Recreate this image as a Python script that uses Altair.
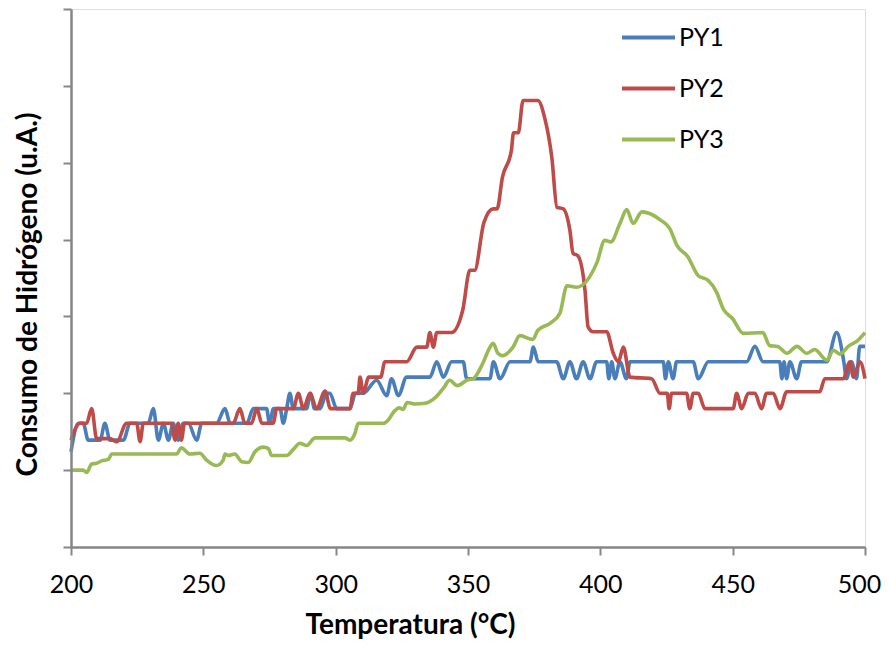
import altair as alt
import pandas as pd

series_names = ["PY1", "PY2", "PY3"]
series_colors = ["#4A7EBB", "#BE4B48", "#98B954"]

py1_t = [200.0, 202.8, 204.6, 206.5, 211.0, 212.8, 214.7, 219.8, 222.3, 229.2, 231.1, 233.0, 234.9,
         236.8, 238.6, 240.5, 242.4, 244.3, 247.5, 249.4, 255.0, 258.2, 260.1, 266.4, 268.9, 273.9,
         275.0, 276.5, 279.0, 280.2, 281.5, 282.7, 284.0, 289.0, 290.5, 292.0, 294.1, 296.6, 297.8,
         300.4, 305.4, 307.5, 310.4, 315.5, 319.3, 321.1, 323.7, 326.8, 335.6, 338.2, 340.7, 343.8,
         348.2, 349.5, 358.3, 359.6, 362.1, 365.9, 373.4, 374.7, 376.5, 383.5, 386.0, 388.5, 391.0,
         393.5, 396.1, 398.6, 402.4, 403.2, 404.3, 405.5, 407.4, 409.9, 411.2, 423.8, 424.6, 425.7,
         427.5, 428.8, 435.1, 437.0, 440.8, 455.3, 458.4, 461.5, 467.8, 468.6, 469.4, 470.4, 471.6,
         474.2, 476.0, 485.5, 489.3, 492.0, 493.0, 494.9, 496.8, 498.0, 500.0]
py1_v = [1.24, 1.61, 1.61, 1.39, 1.39, 1.61, 1.39, 1.39, 1.61, 1.61, 1.80, 1.39, 1.61,
         1.39, 1.61, 1.39, 1.61, 1.61, 1.39, 1.61, 1.61, 1.80, 1.61, 1.61, 1.80, 1.80,
         1.61, 1.80, 1.80, 1.61, 1.80, 2.00, 1.80, 1.80, 2.00, 1.80, 1.80, 2.00, 2.00,
         1.80, 1.80, 2.00, 2.00, 2.17, 1.97, 2.19, 1.97, 2.21, 2.21, 2.41, 2.21, 2.41,
         2.41, 2.19, 2.19, 2.41, 2.19, 2.41, 2.41, 2.60, 2.41, 2.41, 2.19, 2.41, 2.19,
         2.41, 2.19, 2.41, 2.41, 2.19, 2.41, 2.19, 2.41, 2.19, 2.41, 2.41, 2.19, 2.41,
         2.19, 2.41, 2.41, 2.19, 2.41, 2.41, 2.61, 2.41, 2.41, 2.19, 2.41, 2.19, 2.41,
         2.19, 2.41, 2.41, 2.79, 2.41, 2.19, 2.41, 2.19, 2.61, 2.61]

py2_t = [200.0, 203.4, 205.9, 207.8, 209.7, 214.7, 217.3, 221.0, 224.8, 226.1, 227.3, 238.0, 239.3,
         240.5, 241.7, 242.9, 261.3, 263.8, 265.7, 268.2, 270.2, 272.1, 276.4, 277.7, 284.0, 285.9,
         287.8, 290.3, 292.8, 296.0, 298.0, 305.4, 306.6, 308.5, 309.2, 310.4, 312.5, 317.0, 318.6,
         326.8, 330.7, 334.4, 335.6, 336.9, 338.2, 343.8, 348.0, 350.7, 352.5, 356.0, 359.5, 361.0,
         363.0, 366.4, 367.2, 369.0, 370.8, 376.4, 379.0, 381.7, 383.6, 386.0, 388.5, 389.7, 391.5,
         394.2, 395.4, 397.3, 402.4, 404.9, 406.8, 408.7, 411.2, 419.4, 422.5, 425.3, 426.0, 426.9,
         432.6, 433.8, 435.1, 437.0, 439.5, 450.2, 451.5, 453.4, 455.9, 458.4, 460.9, 462.8, 465.3,
         467.9, 470.4, 482.9, 484.8, 491.8, 494.3, 495.6, 498.1, 500.0]
py2_v = [1.39, 1.61, 1.61, 1.80, 1.41, 1.41, 1.37, 1.61, 1.61, 1.37, 1.61, 1.61, 1.39,
         1.61, 1.39, 1.61, 1.61, 1.80, 1.61, 1.61, 1.80, 1.61, 1.61, 1.80, 1.80, 2.00,
         1.80, 2.00, 1.80, 2.03, 1.80, 1.80, 2.00, 2.00, 2.21, 2.00, 2.21, 2.21, 2.41,
         2.41, 2.60, 2.60, 2.79, 2.60, 2.79, 2.79, 3.08, 3.60, 3.60, 4.22, 4.40, 4.40,
         4.81, 5.16, 5.39, 5.39, 5.81, 5.81, 5.58, 5.06, 4.42, 4.40, 4.12, 3.82, 3.79,
         3.34, 2.86, 2.80, 2.80, 2.52, 2.41, 2.60, 2.21, 2.19, 2.00, 2.00, 1.80, 2.00,
         2.00, 1.80, 2.00, 2.00, 1.80, 1.80, 2.00, 1.80, 2.00, 2.00, 1.80, 2.00, 2.00,
         1.80, 2.02, 2.02, 2.19, 2.19, 2.41, 2.21, 2.41, 2.19]

py3_t = [200.0, 204.6, 205.9, 207.8, 209.7, 211.6, 214.1, 215.4, 239.9, 241.7, 244.9, 248.7, 251.2,
         255.0, 257.5, 258.2, 259.4, 261.9, 264.5, 267.0, 269.5, 272.7, 274.6, 275.8, 281.5, 284.0,
         286.5, 289.0, 292.2, 303.5, 305.4, 307.3, 308.5, 318.0, 319.8, 322.0, 324.0, 325.5, 327.0,
         330.0, 333.7, 337.5, 341.0, 343.0, 346.0, 349.6, 352.0, 355.6, 358.3, 359.5, 361.3, 363.0,
         367.0, 369.6, 374.5, 376.4, 381.0, 384.7, 387.4, 391.0, 398.7, 401.7, 404.0, 407.4, 410.0,
         412.4, 415.7, 422.5, 426.3, 429.0, 433.0, 437.0, 440.7, 444.0, 446.4, 450.0, 454.0, 461.4,
         464.0, 467.0, 470.5, 474.3, 478.0, 481.0, 485.6, 488.0, 490.5, 494.0, 497.0, 500.0]
py3_v = [1.00, 1.00, 0.97, 1.08, 1.09, 1.12, 1.14, 1.21, 1.21, 1.29, 1.21, 1.22, 1.13,
         1.06, 1.13, 1.21, 1.19, 1.21, 1.11, 1.10, 1.24, 1.30, 1.28, 1.19, 1.19, 1.27,
         1.35, 1.32, 1.42, 1.42, 1.39, 1.48, 1.61, 1.61, 1.65, 1.76, 1.81, 1.79, 1.88,
         1.86, 1.87, 1.94, 2.08, 2.17, 2.10, 2.17, 2.19, 2.39, 2.60, 2.65, 2.52, 2.49,
         2.60, 2.75, 2.70, 2.82, 2.91, 3.04, 3.40, 3.38, 3.70, 3.99, 3.97, 4.21, 4.39,
         4.21, 4.36, 4.26, 4.14, 3.92, 3.78, 3.53, 3.47, 3.31, 3.10, 2.97, 2.78, 2.79,
         2.62, 2.61, 2.52, 2.61, 2.52, 2.57, 2.43, 2.56, 2.51, 2.62, 2.68, 2.79]

x_ticks = [200, 250, 300, 350, 400, 450, 500]
y_ticks = [0, 1, 2, 3, 4, 5, 6, 7]

frames = []
for name, ts, vs in zip(series_names, [py1_t, py2_t, py3_t], [py1_v, py2_v, py3_v]):
    frames.append(pd.DataFrame({"T": ts, "v": vs, "serie": name}))
df = pd.concat(frames, ignore_index=True)

FONT = "Lato"
AXIS_GRAY = "#868686"

chart = alt.Chart(df).mark_line(strokeWidth=3.6, interpolate="monotone").encode(
    x=alt.X("T:Q",
            scale=alt.Scale(domain=[200, 500], nice=False, zero=False),
            axis=alt.Axis(values=x_ticks, title="Temperatura (°C)", format="d",
                          grid=False, tickSize=8, tickWidth=2, tickColor=AXIS_GRAY,
                          domainColor=AXIS_GRAY, domainWidth=2.5,
                          labelFont=FONT, labelFontSize=25, labelColor="black",
                          labelPadding=17, labelFlush=False,
                          labelOffset={"condition": {"test": "datum.value === 500", "value": -6},
                                       "value": 0},
                          titleFont=FONT, titleFontSize=28, titleFontWeight="bold",
                          titleColor="black", titlePadding=14, titleX=339, zindex=1)),
    y=alt.Y("v:Q",
            scale=alt.Scale(domain=[0, 7], nice=False),
            axis=alt.Axis(values=y_ticks, labels=False, title="Consumo de Hidrógeno (u.A.)",
                          grid=False, tickSize=8, tickWidth=2, tickColor=AXIS_GRAY,
                          domainColor=AXIS_GRAY, domainWidth=2.5,
                          titleFont=FONT, titleFontSize=28, titleFontWeight="bold",
                          titleColor="black", titlePadding=20, titleY=285, zindex=1)),
    color=alt.Color("serie:N",
                    scale=alt.Scale(domain=series_names, range=series_colors),
                    legend=alt.Legend(title=None, orient="none", legendX=549, legendY=0,
                                      symbolType="stroke", symbolSize=2809,
                                      symbolStrokeWidth=4, labelFont=FONT,
                                      labelFontSize=25, labelColor="black",
                                      rowPadding=9, labelOffset=2, padding=0)),
).properties(
    width=794,
    height=538,
    autosize=alt.AutoSizeParams(type="none"),
    padding={"left": 63, "top": 1, "right": 16, "bottom": 93},
).configure_view(
    stroke="black", strokeWidth=2
).configure(background="white")

chart.save("out.html", embed_options={"renderer": "svg", "actions": False})
